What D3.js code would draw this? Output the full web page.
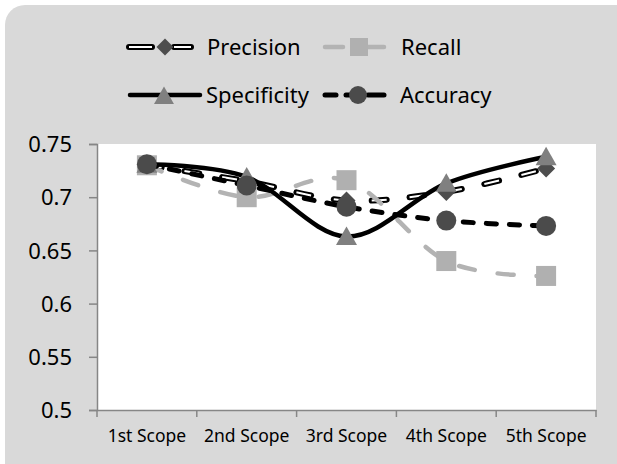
<!DOCTYPE html>
<html><head><meta charset="utf-8">
<script src="https://cdn.jsdelivr.net/npm/d3@7"></script>
<style>html,body{margin:0;padding:0;background:#fff;}svg{display:block;}text{font-family:"Noto Sans",sans-serif;fill:#000;}</style>
</head><body>
<script>
const categories = ["1st Scope","2nd Scope","3rd Scope","4th Scope","5th Scope"];
const precision  = [0.730, 0.715, 0.697, 0.705, 0.727];
const recall     = [0.730, 0.700, 0.716, 0.640, 0.626];
const specificity= [0.731, 0.719, 0.663, 0.713, 0.738];
const accuracy   = [0.731, 0.711, 0.691, 0.678, 0.673];
const yTicks = [0.5, 0.55, 0.6, 0.65, 0.7, 0.75];
const yTickLabels = ["0.5","0.55","0.6","0.65","0.7","0.75"];

(function(){
const W = 617, H = 464;
const svg = d3.select("body").append("svg").attr("width", W).attr("height", H);
svg.append("rect").attr("x",5).attr("y",5).attr("width",W+30).attr("height",H+30).attr("rx",20).attr("fill","#d9d9d9");

const pL = 97, pR = 596, pT = 144, pB = 410;
const x = d3.scaleBand().domain(categories).range([pL, pR]);
const y = d3.scaleLinear().domain([0.5, 0.75]).range([pB, pT]);

svg.append("rect").attr("x",pL).attr("y",pT).attr("width",pR-pL).attr("height",pB-pT).attr("fill","#fff");

// axes
const yAxis = svg.append("g").attr("transform",`translate(${pL},0)`)
  .call(d3.axisLeft(y).tickValues(yTicks).tickFormat((d,i)=>yTickLabels[i]).tickSize(8).tickPadding(17));
const xAxis = svg.append("g").attr("transform",`translate(0,${pB})`)
  .call(d3.axisBottom(x).tickSize(0).tickPadding(20));
[yAxis, xAxis].forEach(g=>{
  g.selectAll(".domain").attr("stroke","#868686").attr("stroke-width",1.5);
  g.selectAll(".tick line").attr("stroke","#868686").attr("stroke-width",1.5);
  g.selectAll("text").attr("fill","#000").style("font-family","'Noto Sans',sans-serif");
});
yAxis.selectAll("text").attr("font-size",22).attr("dy","0.35em");
xAxis.selectAll("text").attr("font-size",17.5);
// x boundary ticks
const bounds = categories.map(c=>x(c)).concat([pR]);
svg.append("g").selectAll("line").data(bounds).join("line")
  .attr("x1",d=>d).attr("x2",d=>d).attr("y1",pB).attr("y2",pB+7)
  .attr("stroke","#868686").attr("stroke-width",1.5);

const cx = c => x(c) + x.bandwidth()/2;
const line = d3.line().x((d,i)=>cx(categories[i])).y(d=>y(d)).curve(d3.curveCatmullRom.alpha(0));

function drawPrecisionLine(sel, d, dash){
  sel.append("path").attr("d",d).attr("fill","none").attr("stroke","#000").attr("stroke-width",6)
    .attr("stroke-linecap","round").attr("stroke-dasharray",dash);
  sel.append("path").attr("d",d).attr("fill","none").attr("stroke","#fff").attr("stroke-width",2)
    .attr("stroke-linecap","butt").attr("stroke-dasharray",dash);
}
const diamond = (s)=>`M0,${-s}L${s},0L0,${s}L${-s},0Z`;
const tri = (s)=>`M0,${-s}L${s*1.05},${s*0.85}L${-s*1.05},${s*0.85}Z`;

// Precision
const g1 = svg.append("g");
drawPrecisionLine(g1, line(precision), "15 23");
g1.selectAll("path.m").data(precision).join("path").attr("class","m")
  .attr("d",diamond(9)).attr("fill","#4d4d4d")
  .attr("transform",(d,i)=>`translate(${cx(categories[i])},${y(d)})`);

// Recall
const g2 = svg.append("g");
g2.append("path").attr("d",line(recall)).attr("fill","none").attr("stroke","#b3b3b3").attr("stroke-width",4.5)
  .attr("stroke-linecap","round").attr("stroke-dasharray","16 23");
g2.selectAll("rect").data(recall).join("rect")
  .attr("x",(d,i)=>cx(categories[i])-10).attr("y",d=>y(d)-10).attr("width",20).attr("height",20).attr("fill","#b0b0b0");

// Specificity
const g3 = svg.append("g");
g3.append("path").attr("d",line(specificity)).attr("fill","none").attr("stroke","#000").attr("stroke-width",4.5);
g3.selectAll("path.m").data(specificity).join("path").attr("class","m")
  .attr("d",tri(10)).attr("fill","#808080")
  .attr("transform",(d,i)=>`translate(${cx(categories[i])},${y(d)})`);

// Accuracy
const g4 = svg.append("g");
g4.append("path").attr("d",line(accuracy)).attr("fill","none").attr("stroke","#000").attr("stroke-width",5)
  .attr("stroke-linecap","round").attr("stroke-dasharray","10 13");
g4.selectAll("circle").data(accuracy).join("circle")
  .attr("cx",(d,i)=>cx(categories[i])).attr("cy",d=>y(d)).attr("r",10).attr("fill","#4b4b4b");

// Legend
const lg = svg.append("g");
const ly1 = 47, ly2 = 95;
[[129,152],[174,191]].forEach(([a,b])=>{
  drawPrecisionLine(lg, `M${a},${ly1}L${b},${ly1}`, null);
});
lg.append("path").attr("d",diamond(8.5)).attr("fill","#4d4d4d").attr("transform",`translate(165,${ly1})`);
lg.append("text").attr("x",207).attr("y",ly1).attr("dy","0.35em").attr("font-size",22).text("Precision");

lg.append("line").attr("x1",325).attr("x2",343).attr("y1",ly1).attr("y2",ly1).attr("stroke","#b3b3b3").attr("stroke-width",4.5).attr("stroke-linecap","round");
lg.append("line").attr("x1",366).attr("x2",384).attr("y1",ly1).attr("y2",ly1).attr("stroke","#b3b3b3").attr("stroke-width",4.5).attr("stroke-linecap","round");
lg.append("rect").attr("x",350).attr("y",ly1-9).attr("width",18).attr("height",18).attr("fill","#b0b0b0");
lg.append("text").attr("x",401).attr("y",ly1).attr("dy","0.35em").attr("font-size",22).text("Recall");

lg.append("line").attr("x1",130).attr("x2",200).attr("y1",ly2).attr("y2",ly2).attr("stroke","#000").attr("stroke-width",4.5).attr("stroke-linecap","round");
lg.append("path").attr("d",tri(9.5)).attr("fill","#808080").attr("transform",`translate(164,${ly2+1})`);
lg.append("text").attr("x",206).attr("y",ly2).attr("dy","0.35em").attr("font-size",22).text("Specificity");

[[325,336],[346,349],[368,384]].forEach(([a,b])=>{
  lg.append("line").attr("x1",a).attr("x2",b).attr("y1",ly2).attr("y2",ly2).attr("stroke","#000").attr("stroke-width",5).attr("stroke-linecap","round");
});
lg.append("circle").attr("cx",358).attr("cy",ly2).attr("r",9).attr("fill","#4b4b4b");
lg.append("text").attr("x",400).attr("y",ly2).attr("dy","0.35em").attr("font-size",22).text("Accuracy");
})();
</script>
</body></html>
